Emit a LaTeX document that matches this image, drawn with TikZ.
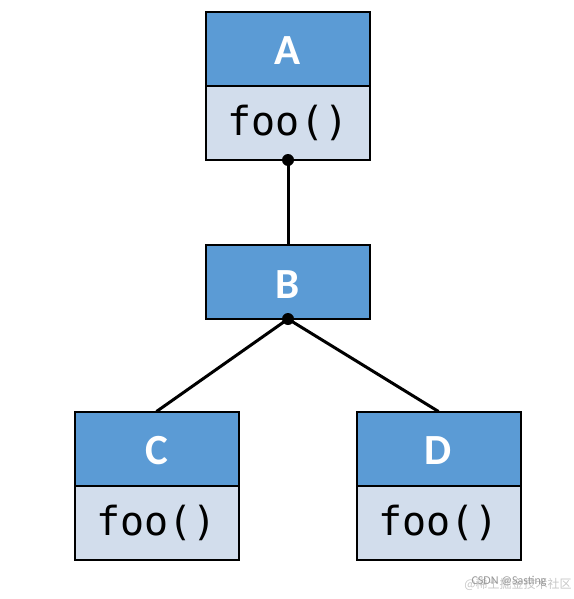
\documentclass[tikz,border=0pt]{standalone}
\usepackage{fontspec}
\setmainfont{Carlito}
\newfontfamily\codefont{DejaVu Sans Mono}
\newfontfamily\cjk{Noto Sans CJK SC}
\usetikzlibrary{positioning}
\definecolor{hdblue}{HTML}{5B9BD5}
\definecolor{bdblue}{HTML}{D2DDEC}

\begin{document}
\begin{tikzpicture}[x=1pt,y=-1pt,
  head/.style={draw=black, line width=2pt, fill=hdblue, outer sep=0pt,
    minimum width=164pt, minimum height=74pt, inner sep=0pt, text=white,
    text height=32pt, text depth=0pt, font=\fontsize{43}{50}\selectfont\bfseries},
  body/.style={draw=black, line width=2pt, fill=bdblue, outer sep=0pt,
    minimum width=164pt, minimum height=74pt, inner sep=0pt,
    font=\codefont\fontsize{40}{48}\selectfont},
  link/.style={line width=3pt},
  knob/.style={circle, fill=black, inner sep=0pt, minimum size=12pt},
  wmark/.style={font=\fontsize{12}{14}\selectfont}
]
\useasboundingbox (0,0) rectangle (573,599);

% ===================== A =====================
\node[head] (A) at (288,49) {A};
\node[body, below=0pt of A] (Afoo) {foo()};

% ===================== B =====================
\node[head] (B) at (288,282) {B};

% ===================== C and D =====================
\node[head] (C) at (156.5,448.5) {C};
\node[body, below=0pt of C] (Cfoo) {foo()};

\node[head] (D) at (438.5,448.5) {D};
\node[body, below=0pt of D] (Dfoo) {foo()};

% links
\draw[link] (Afoo.south) -- (B.north);
\draw[link] (B.south) -- (C.north);
\draw[link] (B.south) -- (D.north);
\node[knob] (Aknob) at (Afoo.south) {};
\node[knob] (Bknob) at (B.south) {};

% watermark
\node[wmark, text=black!22] (wm2) at (518,584) {\cjk @稀土掘金技术社区};
\node[wmark, text=black!40] (wm1) at (509,581) {CSDN @Sasting};

\end{tikzpicture}
\end{document}
